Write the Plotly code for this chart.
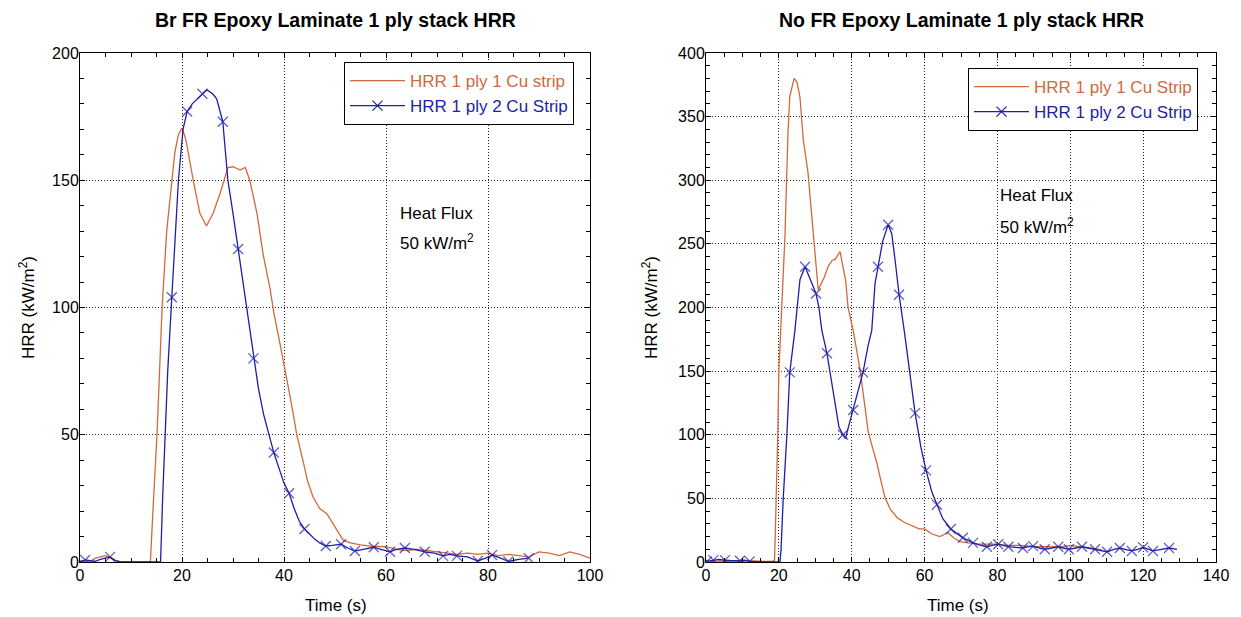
import plotly.graph_objects as go

# ---------------- data ----------------
# Left panel: Br FR Epoxy Laminate
br_1cu_t = [0, 2, 3, 4, 5, 6, 7, 8, 10, 12, 13.8, 14.3, 15.1, 15.6, 16.1, 17, 18, 18.6, 19.3, 20,
            20.6, 20.9, 22.2, 23.5, 24.8, 26.1, 27.5, 29, 30, 31.4, 32.4, 33.3, 34.7, 35.9, 37.3,
            38, 39, 40, 41, 42, 42.5, 43.7, 44.6, 45.7, 47, 48.4, 50.4, 51.6, 53, 55, 57, 60,
            62, 64, 66, 68, 70, 72, 74, 76, 78, 80, 82, 84, 86, 88, 90, 92, 94, 96, 98, 100]
br_1cu_v = [0.5, 0.3, 1.5, 2, 2.5, 1.5, 0.5, 0, 0, 0, 0, 20, 50, 75, 100, 130, 150, 161, 168, 170.5,
            167, 164.5, 150, 137, 132, 137, 145, 155, 155.3, 154, 155, 150, 137, 121, 107,
            98, 88, 78, 67, 56, 50, 40, 32, 25.5, 21, 19, 12.6, 8.6, 7.5, 6.7, 6.2, 6,
            5, 4.5, 5, 4.5, 4, 3.5, 3, 3.5, 3, 3.5, 2.5, 3, 2.5, 2, 4, 3.5, 2.5, 4, 3, 1.5]

br_2cu_t = [0, 1, 2, 3, 4, 5, 5.9, 7, 8, 10, 12, 14, 15.8, 16.2, 16.7, 17.2, 18, 18.8, 19.3, 20.2,
            21, 22, 23, 24, 24.9, 26, 26.8, 28, 29, 30, 31, 32.4, 33, 34, 35, 36, 37, 38, 39, 40,
            41, 42, 43, 44, 45, 46, 47, 48.2, 49.5, 51.2, 52.5, 53.9, 55.5, 57.6, 59, 60.8, 62,
            63.7, 65.5, 67.6, 69.5, 71.2, 72.5, 73.9, 76, 78, 79.5, 80.8, 82.5, 84, 86, 88]
br_2cu_v = [0, 0.8, 0.5, 0.3, 1, 1.5, 2, 0.5, 0, 0, 0, 0, 0, 25, 50, 75, 104, 130, 150, 170,
            177, 180, 182, 184, 185.5, 184, 182, 173, 150, 137, 123, 103, 94, 80, 68, 58, 50, 43, 37, 31,
            27, 21, 16, 13, 11, 9, 7.5, 6.3, 6.5, 7, 5.5, 4.3, 5, 5.8, 5, 4, 5,
            5.5, 5, 4, 3.5, 2.4, 3, 2.4, 2, 0.4, 1.5, 2.7, 1.5, 0.2, 1, 1.5]
br_2cu_marks = [1, 5.9, 18, 21, 24, 28, 31, 34, 38, 41, 44, 48.2, 51.2, 53.9, 57.6, 60.8, 63.7,
                67.6, 71.2, 73.9, 78, 80.8, 84, 88]

# Right panel: No FR Epoxy Laminate
no_1cu_t = [0, 2, 4, 6, 8, 10, 12, 14, 16, 18, 18.8, 19, 19.3, 19.7, 20, 20.9, 21.7, 22.5, 23, 24.2,
            25, 25.8, 26.7, 28, 29.4, 30.8, 31.5, 32.5, 33.5, 34.6, 35.5, 36.8, 37.6, 38.3, 39, 40.4,
            42.3, 44.5, 45.5, 46.9, 48, 49.1, 50.5, 52.4, 54.5, 56.8, 58.5, 60, 62, 64.2, 66.4, 68,
            69.7, 72, 75, 78, 80, 83, 86, 90, 94, 98, 100, 102, 105, 108, 109]
no_1cu_v = [1, 0.5, 1, 0.5, 1, 0.5, 1, 0.5, 0.5, 0.5, 1, 20, 50, 100, 150, 206, 258, 337, 366, 380,
            377, 365, 332, 306, 258, 214, 218, 224, 232, 237, 238, 244, 232, 222, 200, 182,
            151, 103, 92, 78, 64, 51, 42, 35, 31, 28, 26, 26, 22, 20, 23, 19,
            16, 15, 14, 14, 14, 13, 13, 12, 12, 12, 13, 12, 11, 10, 9]

no_2cu_t = [0.3, 2, 3.5, 5.2, 7, 9.3, 10.5, 12, 14, 16, 18, 20.3, 20.6, 21.2, 22.2, 23, 24.4, 25.8, 27.2,
            28.2, 29, 30.2, 31, 31.8, 33.2, 34.5, 35.5, 36.5, 37.6, 38.3, 39, 40.4, 41.5, 43.1, 44.5,
            45.5, 46.4, 47.2, 48.5, 50, 51, 52, 53, 54.5, 56, 57.4, 59, 60.4, 62, 63.4, 65, 67.2,
            69, 70.5, 72, 73.3, 75, 77.1, 78.5, 80.2, 81.5, 83, 85, 87, 88.5, 89.8, 91.5, 93, 95,
            96.7, 98, 99.6, 101.5, 103.2, 105, 106.8, 108.5, 110.1, 112, 113.6, 115, 116.9, 118.5,
            120, 121.5, 122.7, 125, 127.1, 129.3]
no_2cu_v = [0.5, 1.5, 2, 1.5, 1, 1, 1.5, 0.5, 0, 0, 0, 0, 10, 50, 100, 149, 182, 222, 232,
            225, 218, 211, 200, 182, 164, 140, 122, 106, 100, 97, 105, 119.5, 131, 149, 170,
            182, 219, 232, 252, 265, 258, 235, 210, 180, 148, 117, 90, 72, 55, 45, 34, 26,
            22, 19, 17, 15, 13.5, 12, 13, 14, 13, 12, 11.5, 11, 12, 12.5, 11, 10, 11,
            12, 11, 10, 11, 12, 11, 10, 9, 8, 10, 11, 10, 8.7, 10,
            11.5, 10, 8.7, 10, 11, 10]
no_2cu_marks = [0.3, 2, 5.2, 9.3, 12, 23, 27.2, 30.2, 33.2, 37.6, 40.4, 43.1, 47.2, 50, 53, 57.4,
                60.4, 63.4, 67.2, 70.5, 73.3, 77.1, 80.2, 83, 87, 89.8, 93, 96.7, 99.6, 103.2,
                106.8, 110.1, 113.6, 116.9, 120, 122.7, 127.1]

titles = ["Br FR Epoxy Laminate 1 ply stack HRR", "No FR Epoxy Laminate 1 ply stack HRR"]
legend_names = [["HRR 1 ply 1 Cu strip", "HRR 1 ply 2 Cu Strip"],
                ["HRR 1 ply 1 Cu Strip", "HRR 1 ply 2 Cu Strip"]]
x_title = "Time (s)"
y_title = "HRR (kW/m<sup>2</sup>)"

# ---------------- style ----------------
ORANGE = "#D2693C"
BLUE = "#1E1EA8"
FONT = "Arial, Liberation Sans, sans-serif"
MSIZE = 10
LW = 1.3


def msizes(ts, marks, s=MSIZE):
    ms = set(marks)
    return [s if t in ms else 0 for t in ts]


def cname(text, color):
    return f'<span style="color:{color}">{text}</span>'


fig = go.Figure()

panels = [
    (br_1cu_t, br_1cu_v, br_2cu_t, br_2cu_v, br_2cu_marks, "x", "y", "legend"),
    (no_1cu_t, no_1cu_v, no_2cu_t, no_2cu_v, no_2cu_marks, "x2", "y2", "legend2"),
]
for i, (t1, v1, t2, v2, mk, xa, ya, lg) in enumerate(panels):
    fig.add_trace(go.Scatter(x=t1, y=v1, mode="lines", xaxis=xa, yaxis=ya, legend=lg,
                             name=cname(legend_names[i][0], ORANGE),
                             line=dict(color=ORANGE, width=LW)))
    fig.add_trace(go.Scatter(x=t2, y=v2, mode="lines+markers", xaxis=xa, yaxis=ya,
                             showlegend=False,
                             line=dict(color=BLUE, width=LW),
                             marker=dict(symbol="x-thin", size=msizes(t2, mk), color=BLUE,
                                         line=dict(color=BLUE, width=LW))))
    # legend entry only (no data drawn)
    fig.add_trace(go.Scatter(x=[None], y=[None], mode="lines+markers", xaxis=xa, yaxis=ya,
                             legend=lg, name=cname(legend_names[i][1], BLUE),
                             line=dict(color=BLUE, width=LW),
                             marker=dict(symbol="x-thin", size=MSIZE, color=BLUE,
                                         line=dict(color=BLUE, width=LW))))

# page body has an 8px margin: figure pixel = reference pixel - 8
OFF = 8
W, H = 1233, 609


def px_x(x):
    return (x - OFF) / W


def px_y(y):
    return 1 - (y - OFF) / H


xdom = [[px_x(80), px_x(590)], [px_x(706), px_x(1216)]]
ydom = [px_y(562), px_y(53)]

axis_common = dict(
    showline=True, linecolor="black", linewidth=1, mirror="ticks",
    ticks="inside", ticklen=5, tickcolor="black", tickwidth=1,
    showgrid=True, gridcolor="#222222", gridwidth=1, griddash="1px,2px",
    zeroline=False, automargin=False,
    tickfont=dict(family=FONT, size=16, color="black"),
)
xminor = dict(dtick=5, ticks="inside", ticklen=4, tickcolor="black", showgrid=False)
yminor = dict(dtick=10, ticks="inside", ticklen=4, tickcolor="black", showgrid=False)

fig.update_layout(
    width=W, height=H, margin=dict(l=0, r=0, t=0, b=0, autoexpand=False),
    paper_bgcolor="white", plot_bgcolor="white",
    font=dict(family=FONT, size=16, color="black"),
    xaxis=dict(domain=xdom[0], range=[0, 100], dtick=20, anchor="y", minor=xminor,
               ticklabelstandoff=-1, **axis_common),
    yaxis=dict(domain=ydom, range=[0, 200], dtick=50, anchor="x", minor=yminor,
               ticklabelstandoff=-3, **axis_common),
    xaxis2=dict(domain=xdom[1], range=[0, 140], dtick=20, anchor="y2", minor=xminor,
                ticklabelstandoff=-1, **axis_common),
    yaxis2=dict(domain=ydom, range=[0, 400], dtick=50, anchor="x2", minor=yminor,
                ticklabelstandoff=-3, **axis_common),
    legend=dict(x=px_x(344), y=px_y(62), xanchor="left", yanchor="top",
                bgcolor="white", bordercolor="black", borderwidth=1, itemwidth=55,
                font=dict(family=FONT, size=17), tracegroupgap=0),
    legend2=dict(x=px_x(968), y=px_y(68), xanchor="left", yanchor="top",
                 bgcolor="white", bordercolor="black", borderwidth=1, itemwidth=55,
                 font=dict(family=FONT, size=17), tracegroupgap=0),
    showlegend=True,
)

# titles and axis titles
xtitle_centers = [336, 958]
ytitle_centers = [27, 650]
for i in range(2):
    fig.add_annotation(text=f"<b>{titles[i]}</b>", xref="paper", yref="paper",
                       x=sum(xdom[i]) / 2, y=px_y(20), xanchor="center", yanchor="middle",
                       showarrow=False, font=dict(family=FONT, size=19.5, color="black"))
    fig.add_annotation(text=x_title, xref="paper", yref="paper",
                       x=px_x(xtitle_centers[i]), y=px_y(605), xanchor="center", yanchor="middle",
                       showarrow=False, font=dict(family=FONT, size=17, color="black"))
    fig.add_annotation(text=y_title, xref="paper", yref="paper", textangle=-90,
                       x=px_x(ytitle_centers[i]), y=px_y(308), xanchor="center", yanchor="middle",
                       showarrow=False, font=dict(family=FONT, size=17, color="black"))

# heat flux notes
notes = [("x", "y", 62.3, 137, 124), ("x2", "y2", 80.2, 288, 261)]
for xa, ya, nx, ny1, ny2 in notes:
    fig.add_annotation(text="Heat Flux", xref=xa, yref=ya, x=nx, y=ny1, xanchor="left",
                       yanchor="middle", showarrow=False,
                       font=dict(family=FONT, size=17, color="black"))
    fig.add_annotation(text="50 kW/m<sup>2</sup>", xref=xa, yref=ya, x=nx, y=ny2, xanchor="left",
                       yanchor="bottom", yshift=-9, showarrow=False,
                       font=dict(family=FONT, size=17, color="black"))

fig.write_html("out.html")
